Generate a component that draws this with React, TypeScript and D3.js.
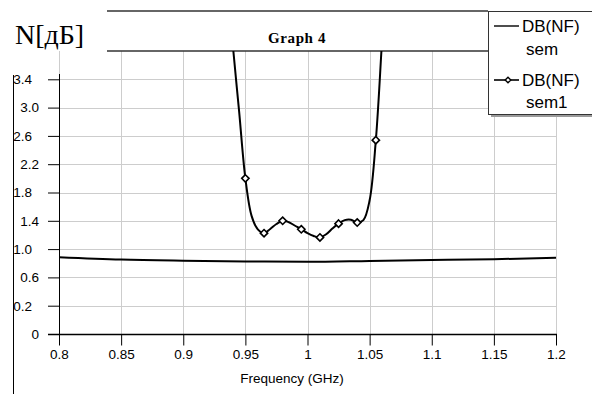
import { useEffect, useRef } from 'react';
import * as d3 from 'd3';

const xTicks = [0.8, 0.85, 0.9, 0.95, 1, 1.05, 1.1, 1.15, 1.2];
const xTickLabels = ['0.8', '0.85', '0.9', '0.95', '1', '1.05', '1.1', '1.15', '1.2'];
const yTicks = [-0.2, 0.2, 0.6, 1.0, 1.4, 1.8, 2.2, 2.6, 3.0, 3.4];
const yTickLabels = ['0', '0.2', '0.6', '1.0', '1.4', '1.8', '2.2', '2.6', '3.0', '3.4'];

// DB(NF) sem
const semFreq = [0.8, 0.85, 0.9, 0.95, 1.0, 1.05, 1.1, 1.15, 1.2];
const semNF = [0.885, 0.852, 0.836, 0.826, 0.82, 0.832, 0.845, 0.857, 0.878];

// DB(NF) sem1
const sem1Freq = [
  0.935, 0.94, 0.945, 0.95, 0.955, 0.96, 0.965, 0.97, 0.975, 0.98, 0.985, 0.99, 0.995, 1.0,
  1.005, 1.01, 1.015, 1.02, 1.025, 1.03, 1.035, 1.04, 1.045, 1.05, 1.055, 1.06, 1.065,
];
const sem1NF = [
  4.9, 3.86, 2.94, 2.0, 1.47, 1.28, 1.225, 1.285, 1.355, 1.4, 1.38, 1.33, 1.28, 1.225,
  1.185, 1.165, 1.21, 1.29, 1.36, 1.41, 1.415, 1.375, 1.41, 1.69, 2.54, 3.95, 5.4,
];
const sem1Markers = [0.95, 0.965, 0.98, 0.995, 1.01, 1.025, 1.04, 1.055];

const W = 592;
const H = 394;
const SANS = '"Liberation Sans", Arial, sans-serif';
const SERIF = '"Liberation Serif", "Times New Roman", serif';

const App = () => {
  const svgRef = useRef<SVGSVGElement>(null);

  useEffect(() => {
    const left = 59;
    const right = 556;
    const top = 51;
    const bottom = 334;

    const x = d3.scaleLinear([0.8, 1.2], [left, right]);
    const y = d3.scaleLinear([-0.2, 3.8], [bottom, top]);

    const svg = d3.select(svgRef.current);
    svg.selectAll('*').remove();

    svg.append('rect').attr('width', W).attr('height', H).attr('fill', '#fff');

    svg
      .append('defs')
      .append('clipPath')
      .attr('id', 'plot-clip')
      .append('rect')
      .attr('x', left)
      .attr('y', top)
      .attr('width', right - left)
      .attr('height', bottom - top);

    // grid
    const grid = svg.append('g').attr('stroke', '#cdcdcd').attr('stroke-width', 1);
    xTicks.forEach((t) => {
      grid
        .append('line')
        .attr('x1', Math.round(x(t)) + 0.5)
        .attr('x2', Math.round(x(t)) + 0.5)
        .attr('y1', top)
        .attr('y2', bottom);
    });
    yTicks.forEach((t) => {
      grid
        .append('line')
        .attr('x1', left)
        .attr('x2', right)
        .attr('y1', Math.round(y(t)) + 0.5)
        .attr('y2', Math.round(y(t)) + 0.5);
    });

    // title box
    const box = svg.append('g').attr('stroke', '#333').attr('stroke-width', 1.3);
    box.append('line').attr('x1', 107).attr('x2', 488).attr('y1', 11).attr('y2', 11);
    box.append('line').attr('x1', 107).attr('x2', 488).attr('y1', top).attr('y2', top);
    svg
      .append('text')
      .attr('x', 297)
      .attr('y', 43)
      .attr('text-anchor', 'middle')
      .attr('font-family', SERIF)
      .attr('font-weight', 'bold')
      .attr('font-size', 15)
      .attr('letter-spacing', 0.6)
      .text('Graph 4');

    // y axis
    const yAxis = d3
      .axisLeft(y)
      .tickValues(yTicks)
      .tickFormat((_, i) => yTickLabels[i])
      .tickSize(11)
      .tickSizeOuter(0);
    svg
      .append('g')
      .attr('transform', `translate(${left},0)`)
      .call(yAxis)
      .call((g) => g.select('.domain').remove())
      .call((g) => g.selectAll('.tick line').attr('stroke', '#000'))
      .call((g) =>
        g
          .selectAll('.tick text')
          .attr('font-family', SANS)
          .attr('font-size', 13.5)
          .attr('fill', '#000')
          .attr('x', (_, i) => (i % 2 === 1 ? -27 : -20))
      );
    svg
      .append('line')
      .attr('x1', left + 0.5)
      .attr('x2', left + 0.5)
      .attr('y1', 74)
      .attr('y2', bottom + 11)
      .attr('stroke', '#000');

    // x axis
    const xAxis = d3
      .axisBottom(x)
      .tickValues(xTicks)
      .tickFormat((_, i) => xTickLabels[i])
      .tickSize(11)
      .tickSizeOuter(0);
    svg
      .append('g')
      .attr('transform', `translate(0,${bottom + 0.5})`)
      .call(xAxis)
      .call((g) => g.select('.domain').remove())
      .call((g) => g.selectAll('.tick line').attr('stroke', '#000'))
      .call((g) =>
        g
          .selectAll('.tick text')
          .attr('font-family', SANS)
          .attr('font-size', 13.5)
          .attr('fill', '#000')
          .attr('y', 15)
      );
    svg
      .append('line')
      .attr('x1', 48)
      .attr('x2', right + 1)
      .attr('y1', bottom + 0.5)
      .attr('y2', bottom + 0.5)
      .attr('stroke', '#000')
      .attr('stroke-width', 1.4);

    svg
      .append('text')
      .attr('x', 292)
      .attr('y', 383)
      .attr('text-anchor', 'middle')
      .attr('font-family', SANS)
      .attr('font-size', 13.5)
      .text('Frequency (GHz)');

    // left frame line
    svg
      .append('line')
      .attr('x1', 13.5)
      .attr('x2', 13.5)
      .attr('y1', 75)
      .attr('y2', H)
      .attr('stroke', '#000');

    svg
      .append('text')
      .attr('x', 15)
      .attr('y', 44)
      .attr('font-family', SERIF)
      .attr('font-size', 28)
      .text('N[дБ]');

    // series
    const plot = svg.append('g').attr('clip-path', 'url(#plot-clip)');
    const semLine = d3
      .line<number>()
      .x((i) => x(semFreq[i]))
      .y((i) => y(semNF[i]))
      .curve(d3.curveMonotoneX);
    plot
      .append('path')
      .attr('fill', 'none')
      .attr('stroke', '#000')
      .attr('stroke-width', 2)
      .attr('d', semLine(d3.range(semFreq.length)));

    const sem1Line = d3
      .line<number>()
      .x((i) => x(sem1Freq[i]))
      .y((i) => y(sem1NF[i]))
      .curve(d3.curveCatmullRom.alpha(0.5));
    plot
      .append('path')
      .attr('fill', 'none')
      .attr('stroke', '#000')
      .attr('stroke-width', 2)
      .attr('d', sem1Line(d3.range(sem1Freq.length)));

    const diamond = d3.symbol(d3.symbolDiamond2, 34);
    sem1Markers.forEach((f) => {
      const i = sem1Freq.findIndex((v) => Math.abs(v - f) < 1e-9);
      plot
        .append('path')
        .attr('d', diamond())
        .attr('transform', `translate(${x(sem1Freq[i])},${y(sem1NF[i])})`)
        .attr('fill', '#fff')
        .attr('stroke', '#000')
        .attr('stroke-width', 1.6);
    });

    // legend
    const lg = svg.append('g');
    lg.append('rect')
      .attr('x', 491)
      .attr('y', 14)
      .attr('width', 110)
      .attr('height', 103)
      .attr('fill', '#9a9a9a');
    lg.append('rect')
      .attr('x', 488.5)
      .attr('y', 11.5)
      .attr('width', 110)
      .attr('height', 103)
      .attr('fill', '#fff')
      .attr('stroke', '#333');
    lg.append('line')
      .attr('x1', 494)
      .attr('x2', 519)
      .attr('y1', 26)
      .attr('y2', 26)
      .attr('stroke', '#000')
      .attr('stroke-width', 1.4);
    lg.append('line')
      .attr('x1', 494)
      .attr('x2', 519)
      .attr('y1', 80)
      .attr('y2', 80)
      .attr('stroke', '#000')
      .attr('stroke-width', 1.6);
    lg.append('path')
      .attr('d', d3.symbol(d3.symbolDiamond2, 20)())
      .attr('transform', 'translate(508,80)')
      .attr('fill', '#fff')
      .attr('stroke', '#000')
      .attr('stroke-width', 1.4);
    const legendText = [
      ['DB(NF)', 522, 32],
      ['sem', 526, 55],
      ['DB(NF)', 522, 86],
      ['sem1', 526, 108],
    ] as const;
    legendText.forEach(([t, tx, ty]) => {
      lg.append('text')
        .attr('x', tx)
        .attr('y', ty)
        .attr('font-family', SANS)
        .attr('font-size', 17)
        .text(t);
    });
  }, []);

  return (
    <svg
      ref={svgRef}
      width={W}
      height={H}
      viewBox={`0 0 ${W} ${H}`}
      style={{ position: 'absolute', left: 0, top: 0, display: 'block' }}
    />
  );
};

export default App;
